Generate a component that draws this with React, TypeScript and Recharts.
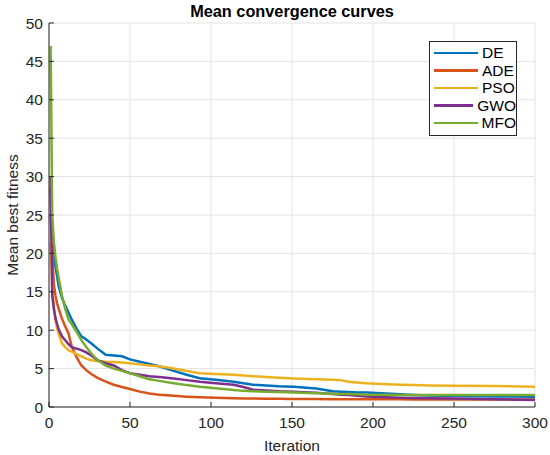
import React from 'react';
import { LineChart, Line, XAxis, YAxis, CartesianGrid, Legend } from 'recharts';

const ITERATIONS = [1, 2, 3, 4, 5, 6, 8, 10, 12, 14, 17, 20, 23, 26, 30, 35, 40, 45, 50, 56, 62, 68, 77, 85, 93, 103, 114, 120, 126, 134, 142, 151, 165, 175, 180, 185, 190, 196, 205, 217, 225, 235, 250, 275, 300];

const DE = [25, 21.5, 19.5, 18.3, 17.0, 15.7, 14.2, 13.2, 12.3, 11.4, 10.2, 9.2, 8.8, 8.3, 7.6, 6.8, 6.7, 6.6, 6.2, 5.9, 5.6, 5.3, 4.7, 4.2, 3.75, 3.55, 3.3, 3.1, 2.9, 2.8, 2.7, 2.65, 2.4, 2.05, 2.0, 1.95, 1.9, 1.88, 1.8, 1.65, 1.57, 1.5, 1.44, 1.38, 1.35];
const ADE = [28.5, 20, 16, 14.5, 13.5, 12.8, 11.5, 10.5, 9.6, 7.9, 6.5, 5.4, 4.8, 4.3, 3.8, 3.3, 2.9, 2.6, 2.35, 2.0, 1.75, 1.6, 1.45, 1.35, 1.27, 1.2, 1.15, 1.12, 1.1, 1.08, 1.06, 1.04, 1.03, 1.02, 1.02, 1.01, 1.01, 1.0, 1.0, 1.0, 0.99, 0.99, 0.99, 0.98, 0.98];
const PSO = [21.4, 15.5, 13, 11.3, 10.3, 9.5, 8.3, 7.8, 7.4, 7.2, 6.9, 6.6, 6.3, 6.1, 6.0, 5.9, 5.85, 5.8, 5.7, 5.55, 5.4, 5.3, 5.0, 4.7, 4.4, 4.3, 4.2, 4.1, 4.0, 3.9, 3.8, 3.7, 3.6, 3.55, 3.5, 3.3, 3.2, 3.1, 3.0, 2.9, 2.85, 2.8, 2.78, 2.72, 2.65];
const GWO = [30, 14.5, 12.8, 11.6, 10.8, 10.1, 9.2, 8.7, 8.2, 7.8, 7.6, 7.4, 7.1, 6.7, 6.1, 5.7, 5.4, 4.8, 4.4, 4.2, 4.0, 3.9, 3.7, 3.5, 3.3, 3.1, 2.9, 2.6, 2.25, 2.15, 2.05, 2.0, 1.85, 1.7, 1.6, 1.55, 1.45, 1.38, 1.3, 1.22, 1.18, 1.14, 1.1, 1.0, 0.9];
const MFO = [47, 25, 21.5, 19.5, 18, 16.8, 14.5, 12.8, 11.4, 10.8, 9.8, 8.7, 7.8, 7.0, 6.1, 5.4, 5.0, 4.7, 4.4, 4.0, 3.6, 3.4, 3.1, 2.85, 2.65, 2.45, 2.2, 2.1, 2.05, 2.0, 1.95, 1.9, 1.8, 1.72, 1.7, 1.68, 1.65, 1.6, 1.58, 1.57, 1.57, 1.57, 1.57, 1.56, 1.55];

const X_TICKS = [0, 50, 100, 150, 200, 250, 300];
const Y_TICKS = [0, 5, 10, 15, 20, 25, 30, 35, 40, 45, 50];

const SERIES = [
  { key: 'DE', color: '#0072BD' },
  { key: 'ADE', color: '#D95319' },
  { key: 'PSO', color: '#EDB120' },
  { key: 'GWO', color: '#7E2F8E' },
  { key: 'MFO', color: '#77AC30' },
];

const rows = ITERATIONS.map((it, i) => ({
  it,
  DE: DE[i],
  ADE: ADE[i],
  PSO: PSO[i],
  GWO: GWO[i],
  MFO: MFO[i],
}));

const FONT = '"Liberation Sans", Arial, Helvetica, sans-serif';
const INK = '#262626';
const FS = 15.5;

function LegendBox() {
  return (
    <div
      style={{
        background: '#fff',
        border: `1px solid ${INK}`,
        width: 88,
        padding: '2px 0 3px 0',
        fontFamily: FONT,
        fontSize: FS,
        color: '#000',
        boxSizing: 'border-box',
        lineHeight: 1,
      }}
    >
      {SERIES.map((s) => (
        <div key={s.key} style={{ display: 'flex', alignItems: 'center', height: 17.6 }}>
          <span style={{ width: 44, height: 2.5, background: s.color, marginLeft: 4, marginRight: 4, display: 'inline-block' }} />
          {s.key}
        </div>
      ))}
    </div>
  );
}

export default function App() {
  return (
    <div style={{ position: 'absolute', left: 0, top: 0, width: 550, height: 455, background: '#fff', fontFamily: FONT }}>
      <div
        style={{
          position: 'absolute',
          left: 49,
          width: 486,
          top: 3,
          textAlign: 'center',
          fontWeight: 'bold',
          fontSize: 16.3,
          lineHeight: 1.1,
          color: '#000',
        }}
      >
        Mean convergence curves
      </div>
      <LineChart width={550} height={455} data={rows} margin={{ top: 23, right: 15, bottom: 0, left: 0 }}>
        <CartesianGrid stroke="#e3e3e3" strokeWidth={1} />
        <XAxis
          dataKey="it"
          type="number"
          domain={[0, 300]}
          ticks={X_TICKS}
          height={48}
          tickSize={-5}
          tickMargin={15}
          stroke={INK}
          tick={{ fill: INK, fontSize: FS, fontFamily: FONT }}
          label={{
            value: 'Iteration',
            position: 'insideBottom',
            offset: 4,
            fill: INK,
            style: { fontSize: FS, fontFamily: FONT },
          }}
        />
        <XAxis xAxisId="top" orientation="top" type="number" domain={[0, 300]} ticks={X_TICKS} height={0} tickSize={-5} tick={false} stroke={INK} />
        <YAxis
          type="number"
          domain={[0, 50]}
          ticks={Y_TICKS}
          width={49}
          tickSize={-5}
          tickMargin={11}
          stroke={INK}
          tick={{ fill: INK, fontSize: FS, fontFamily: FONT }}
          label={{
            value: 'Mean best fitness',
            angle: -90,
            position: 'insideLeft',
            offset: 12,
            fill: INK,
            style: { textAnchor: 'middle', fontSize: FS, fontFamily: FONT },
          }}
        />
        <YAxis yAxisId="right" orientation="right" type="number" domain={[0, 50]} ticks={Y_TICKS} width={0} tickSize={-5} tick={false} stroke={INK} />
        {SERIES.map((s) => (
          <Line
            key={s.key}
            dataKey={s.key}
            stroke={s.color}
            strokeWidth={2.5}
            dot={false}
            type="linear"
            isAnimationActive={false}
          />
        ))}
        <Legend
          layout="vertical"
          align="center"
          verticalAlign="middle"
          content={() => <LegendBox />}
          wrapperStyle={{ position: 'absolute', left: 429, top: 41, width: 88 }}
        />
      </LineChart>
    </div>
  );
}
